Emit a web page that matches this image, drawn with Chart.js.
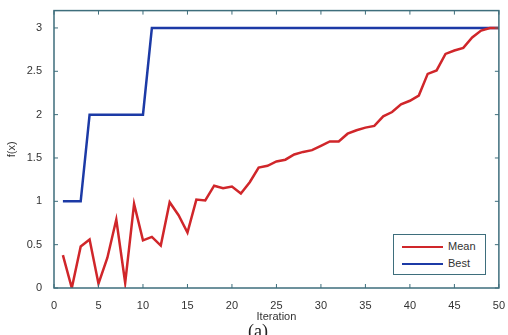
<!DOCTYPE html>
<html>
<head>
<meta charset="utf-8">
<script src="https://cdn.jsdelivr.net/npm/chart.js@4.4.1/dist/chart.umd.min.js"></script>
<style>
  html, body { margin: 0; padding: 0; background: #fff; overflow: hidden; }
  #wrap { position: relative; width: 508px; height: 335px; overflow: hidden; }
  #legend {
    position: absolute; left: 393px; top: 234px; width: 91px; height: 39px;
    border: 1px solid #3e6e7c; background: #fff;
    font-family: "Liberation Sans", Arial, sans-serif; font-size: 11px; color: #333;
  }
  .row { position: absolute; left: 0; height: 14px; }
  .row span.ln { position: absolute; left: 8px; width: 41px; height: 0; top: 7px; border-top: 2px solid; }
  .row span.tx { position: absolute; left: 54px; top: 0; line-height: 14px; }
  #cap {
    position: absolute; left: 248px; top: 321px;
    font-family: "Liberation Serif", "Times New Roman", serif; font-size: 18px; color: #222;
  }
</style>
</head>
<body>
<div id="wrap">
  <canvas id="chart" width="508" height="335"></canvas>
  <div id="legend">
    <div class="row" style="top:4px"><span class="ln" style="border-color:#d0262a"></span><span class="tx">Mean</span></div>
    <div class="row" style="top:21px"><span class="ln" style="border-color:#1c3aa6"></span><span class="tx">Best</span></div>
  </div>
  <div id="cap">(a)</div>
</div>
<script>
const iterations = [];
for (let i = 1; i <= 50; i++) iterations.push(i);

const meanValues = [
  0.38, 0.00, 0.48, 0.56, 0.05, 0.35, 0.79, 0.06, 0.97, 0.55,
  0.59, 0.49, 0.99, 0.84, 0.64, 1.02, 1.01, 1.18, 1.15, 1.17,
  1.09, 1.22, 1.39, 1.41, 1.46, 1.48, 1.54, 1.57, 1.59, 1.64,
  1.69, 1.69, 1.78, 1.82, 1.85, 1.87, 1.98, 2.03, 2.12, 2.16,
  2.22, 2.47, 2.51, 2.70, 2.74, 2.77, 2.89, 2.97, 3.00, 3.00
];

const bestValues = [
  1, 1, 1, 2, 2, 2, 2, 2, 2, 2,
  3, 3, 3, 3, 3, 3, 3, 3, 3, 3,
  3, 3, 3, 3, 3, 3, 3, 3, 3, 3,
  3, 3, 3, 3, 3, 3, 3, 3, 3, 3,
  3, 3, 3, 3, 3, 3, 3, 3, 3, 3
];

const axisColor = '#3e6e7c';
const textColor = '#333';
const font = { family: '"Liberation Sans", Arial, sans-serif', size: 11 };

// MATLAB style box with ticks pointing inward
const boxPlugin = {
  id: 'box',
  afterDraw(chart) {
    const { ctx, chartArea: a, scales } = chart;
    ctx.save();
    ctx.strokeStyle = axisColor;
    ctx.lineWidth = 1.5;
    ctx.strokeRect(a.left, a.top, a.right - a.left, a.bottom - a.top);
    ctx.lineWidth = 1;
    ctx.beginPath();
    scales.x.ticks.forEach(t => {
      const px = scales.x.getPixelForValue(t.value);
      ctx.moveTo(px, a.bottom); ctx.lineTo(px, a.bottom - 4);
      ctx.moveTo(px, a.top); ctx.lineTo(px, a.top + 4);
    });
    scales.y.ticks.forEach(t => {
      const py = scales.y.getPixelForValue(t.value);
      ctx.moveTo(a.left, py); ctx.lineTo(a.left + 4, py);
      ctx.moveTo(a.right, py); ctx.lineTo(a.right - 4, py);
    });
    ctx.stroke();
    ctx.restore();
  }
};

new Chart(document.getElementById('chart'), {
  type: 'line',
  data: {
    datasets: [
      {
        label: 'Mean',
        data: iterations.map((x, i) => ({ x: x, y: meanValues[i] })),
        borderColor: '#d0262a',
        borderWidth: 2.5,
        pointRadius: 0,
        tension: 0
      },
      {
        label: 'Best',
        data: iterations.map((x, i) => ({ x: x, y: bestValues[i] })),
        borderColor: '#1c3aa6',
        borderWidth: 2.5,
        pointRadius: 0,
        tension: 0
      }
    ]
  },
  options: {
    responsive: false,
    animation: false,
    layout: { padding: { left: 0, right: 7, top: 10, bottom: 0 } },
    plugins: { legend: { display: false }, tooltip: { enabled: false } },
    scales: {
      x: {
        type: 'linear',
        min: 0,
        max: 50,
        ticks: { stepSize: 5, color: textColor, font: font, padding: 3, maxRotation: 0 },
        grid: { display: false },
        border: { display: false },
        title: { display: true, text: 'Iteration', color: textColor, font: font, padding: { top: 0, bottom: 11 } },
        afterFit(scale) { scale.height = 47; }
      },
      y: {
        min: 0,
        max: 3.2,
        ticks: { stepSize: 0.5, color: textColor, font: font, padding: 4, callback: v => String(v) },
        afterBuildTicks(scale) { scale.ticks = scale.ticks.filter(t => t.value <= 3); },
        grid: { display: false },
        border: { display: false },
        title: { display: true, text: 'f(x)', color: textColor, font: font, padding: { top: 5, bottom: 0 } },
        afterFit(scale) { scale.width = 54; }
      }
    }
  },
  plugins: [boxPlugin]
});
</script>
</body>
</html>
